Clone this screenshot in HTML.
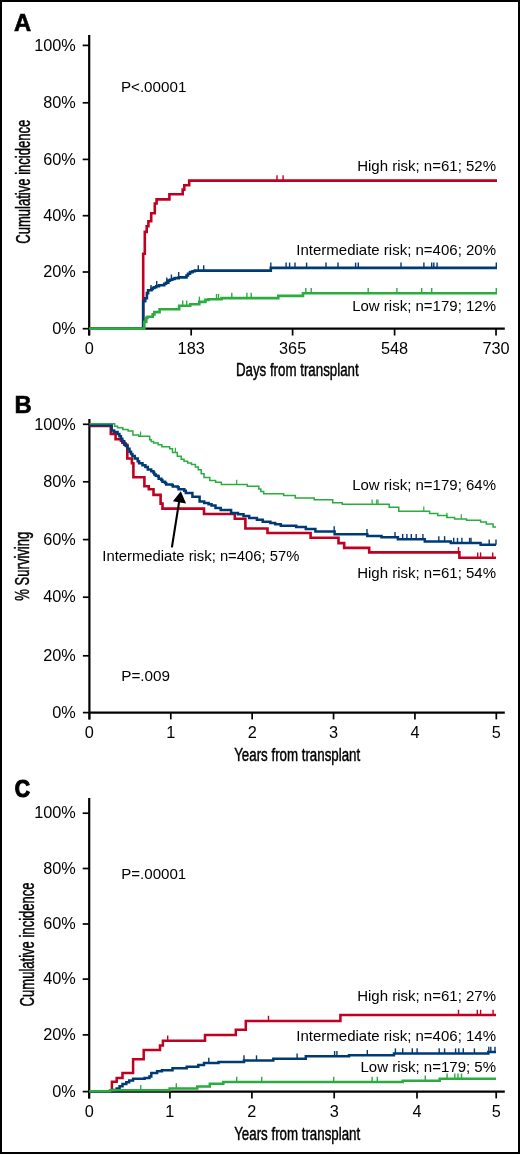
<!DOCTYPE html><html><head><meta charset="utf-8"><style>html,body{margin:0;padding:0;background:#fff;overflow:hidden;width:520px;height:1154px}svg text{font-family:"Liberation Sans",sans-serif}svg{display:block;will-change:transform}</style></head><body><svg width="520" height="1154" viewBox="0 0 520 1154" font-family="&quot;Liberation Sans&quot;, sans-serif">
<rect x="0" y="0" width="520" height="1154" fill="#fff"/>
<rect x="1" y="1" width="518" height="1152" fill="none" stroke="#000" stroke-width="2"/>
<text x="13.9" y="30.5" font-size="23.8" font-weight="bold" stroke="#000" stroke-width="0.6">A</text>
<line x1="89.2" y1="35" x2="89.2" y2="335.5" stroke="#000" stroke-width="2.2"/>
<line x1="82.7" y1="328.70" x2="89.2" y2="328.70" stroke="#000" stroke-width="1.7"/>
<text x="75.8" y="333.90" text-anchor="end" font-size="16.3">0%</text>
<line x1="82.7" y1="272.00" x2="89.2" y2="272.00" stroke="#000" stroke-width="1.7"/>
<text x="75.8" y="277.20" text-anchor="end" font-size="16.3">20%</text>
<line x1="82.7" y1="215.70" x2="89.2" y2="215.70" stroke="#000" stroke-width="1.7"/>
<text x="75.8" y="220.90" text-anchor="end" font-size="16.3">40%</text>
<line x1="82.7" y1="159.40" x2="89.2" y2="159.40" stroke="#000" stroke-width="1.7"/>
<text x="75.8" y="164.60" text-anchor="end" font-size="16.3">60%</text>
<line x1="82.7" y1="102.80" x2="89.2" y2="102.80" stroke="#000" stroke-width="1.7"/>
<text x="75.8" y="108.00" text-anchor="end" font-size="16.3">80%</text>
<line x1="82.7" y1="45.40" x2="89.2" y2="45.40" stroke="#000" stroke-width="1.7"/>
<text x="75.8" y="50.60" text-anchor="end" font-size="16.3">100%</text>
<line x1="89.2" y1="328.7" x2="504.8" y2="328.7" stroke="#000" stroke-width="2.2"/>
<line x1="89.2" y1="328.7" x2="89.2" y2="335.5" stroke="#000" stroke-width="1.7"/>
<text x="89.2" y="353.9" text-anchor="middle" font-size="16.3">0</text>
<line x1="191.1859" y1="328.7" x2="191.1859" y2="335.5" stroke="#000" stroke-width="1.7"/>
<text x="191.1859" y="353.9" text-anchor="middle" font-size="16.3">183</text>
<line x1="292.6145" y1="328.7" x2="292.6145" y2="335.5" stroke="#000" stroke-width="1.7"/>
<text x="292.6145" y="353.9" text-anchor="middle" font-size="16.3">365</text>
<line x1="394.6004" y1="328.7" x2="394.6004" y2="335.5" stroke="#000" stroke-width="1.7"/>
<text x="394.6004" y="353.9" text-anchor="middle" font-size="16.3">548</text>
<line x1="496.029" y1="328.7" x2="496.029" y2="335.5" stroke="#000" stroke-width="1.7"/>
<text x="496.029" y="353.9" text-anchor="middle" font-size="16.3">730</text>
<text x="120.9" y="91.6" font-size="15.2">P&lt;.00001</text>
<text x="0" y="0" font-size="19.5" transform="translate(29.8,181.7) rotate(-90)" text-anchor="middle" textLength="124" lengthAdjust="spacingAndGlyphs" stroke="#000" stroke-width="0.45">Cumulative incidence</text>
<text x="235.9" y="376.3" font-size="18" textLength="122.8" lengthAdjust="spacingAndGlyphs" stroke="#000" stroke-width="0.45">Days from transplant</text>
<text x="496" y="171.4" font-size="15" text-anchor="end">High risk; n=61; 52%</text>
<text x="496" y="255.4" font-size="15" text-anchor="end">Intermediate risk; n=406; 20%</text>
<text x="496" y="310.8" font-size="15" text-anchor="end">Low risk; n=179; 12%</text>
<path d="M 89.2 328.8 H 143.2 V 253.8 H 144.8 V 231.9 H 146.7 V 226.2 H 148.4 V 221.3 H 151.2 V 213.3 H 154.8 V 203.5 H 156.6 V 199.4 H 169.4 V 194.2 H 182.7 V 189.6 H 184.3 V 185.2 H 189.2 V 180.6 H 497" fill="none" stroke="#bf0020" stroke-width="2.6" stroke-linejoin="miter" stroke-linecap="butt"/>
<line x1="277" y1="180.6" x2="277" y2="175.29999999999998" stroke="#bf0020" stroke-width="1.4"/>
<line x1="283.1" y1="180.6" x2="283.1" y2="175.29999999999998" stroke="#bf0020" stroke-width="1.4"/>
<path d="M 89.2 328.8 H 143.2 V 301.2 H 145.2 V 298.3 H 146.9 V 293.1 H 148.1 V 290.2 H 151.5 V 289 H 152.7 V 287.9 H 154.4 V 287.3 H 156.2 V 286.2 H 159 V 285.2 H 164.2 V 283.8 H 166 V 282.7 H 168.3 V 280.6 H 170 V 279.8 H 172.3 V 279 H 174.6 V 278.1 H 178.7 V 277.4 H 186.5 V 275.5 H 188 V 273.7 H 190 V 272.1 H 192.5 V 271.2 H 194.8 V 270.6 H 270.8 V 267.9 H 497" fill="none" stroke="#003a75" stroke-width="2.6" stroke-linejoin="miter" stroke-linecap="butt"/>
<line x1="151" y1="290.2" x2="151" y2="284.9" stroke="#003a75" stroke-width="1.4"/>
<line x1="156.7" y1="286.2" x2="156.7" y2="280.9" stroke="#003a75" stroke-width="1.4"/>
<line x1="166.8" y1="282.7" x2="166.8" y2="277.4" stroke="#003a75" stroke-width="1.4"/>
<line x1="171.4" y1="279.8" x2="171.4" y2="274.5" stroke="#003a75" stroke-width="1.4"/>
<line x1="178.7" y1="277.4" x2="178.7" y2="272.09999999999997" stroke="#003a75" stroke-width="1.4"/>
<line x1="198.3" y1="270.6" x2="198.3" y2="265.3" stroke="#003a75" stroke-width="1.4"/>
<line x1="203.7" y1="270.6" x2="203.7" y2="265.3" stroke="#003a75" stroke-width="1.4"/>
<line x1="270.8" y1="267.9" x2="270.8" y2="262.59999999999997" stroke="#003a75" stroke-width="1.4"/>
<line x1="286.1" y1="267.9" x2="286.1" y2="262.59999999999997" stroke="#003a75" stroke-width="1.4"/>
<line x1="289.6" y1="267.9" x2="289.6" y2="262.59999999999997" stroke="#003a75" stroke-width="1.4"/>
<line x1="295" y1="267.9" x2="295" y2="262.59999999999997" stroke="#003a75" stroke-width="1.4"/>
<line x1="306.6" y1="267.9" x2="306.6" y2="262.59999999999997" stroke="#003a75" stroke-width="1.4"/>
<line x1="326" y1="267.9" x2="326" y2="262.59999999999997" stroke="#003a75" stroke-width="1.4"/>
<line x1="338" y1="267.9" x2="338" y2="262.59999999999997" stroke="#003a75" stroke-width="1.4"/>
<line x1="355.6" y1="267.9" x2="355.6" y2="262.59999999999997" stroke="#003a75" stroke-width="1.4"/>
<line x1="358.3" y1="267.9" x2="358.3" y2="262.59999999999997" stroke="#003a75" stroke-width="1.4"/>
<line x1="401" y1="267.9" x2="401" y2="262.59999999999997" stroke="#003a75" stroke-width="1.4"/>
<line x1="423.9" y1="267.9" x2="423.9" y2="262.59999999999997" stroke="#003a75" stroke-width="1.4"/>
<line x1="431.7" y1="267.9" x2="431.7" y2="262.59999999999997" stroke="#003a75" stroke-width="1.4"/>
<line x1="433.8" y1="267.9" x2="433.8" y2="262.59999999999997" stroke="#003a75" stroke-width="1.4"/>
<line x1="437.1" y1="267.9" x2="437.1" y2="262.59999999999997" stroke="#003a75" stroke-width="1.4"/>
<line x1="496.3" y1="267.9" x2="496.3" y2="262.59999999999997" stroke="#003a75" stroke-width="1.4"/>
<path d="M 89.2 328.6 H 144.3 V 321.9 H 146.3 V 317.9 H 147.5 V 316.7 H 152.7 V 314.4 H 154.4 V 312.1 H 159.6 V 309.2 H 179.2 V 305.8 H 190.2 V 304.2 H 199.3 V 301.9 H 205.4 V 299.9 H 208.5 V 299.2 H 221.5 V 298.1 H 278.3 V 295.9 H 303 V 293.2 H 497" fill="none" stroke="#2aac3e" stroke-width="2.6" stroke-linejoin="miter" stroke-linecap="butt"/>
<line x1="182.7" y1="305.8" x2="182.7" y2="300.5" stroke="#2aac3e" stroke-width="1.4"/>
<line x1="186.7" y1="305.8" x2="186.7" y2="300.5" stroke="#2aac3e" stroke-width="1.4"/>
<line x1="199.4" y1="301.9" x2="199.4" y2="296.59999999999997" stroke="#2aac3e" stroke-width="1.4"/>
<line x1="216.5" y1="299.2" x2="216.5" y2="293.9" stroke="#2aac3e" stroke-width="1.4"/>
<line x1="218.5" y1="299.2" x2="218.5" y2="293.9" stroke="#2aac3e" stroke-width="1.4"/>
<line x1="231.8" y1="298.1" x2="231.8" y2="292.8" stroke="#2aac3e" stroke-width="1.4"/>
<line x1="246.9" y1="298.1" x2="246.9" y2="292.8" stroke="#2aac3e" stroke-width="1.4"/>
<line x1="251.2" y1="298.1" x2="251.2" y2="292.8" stroke="#2aac3e" stroke-width="1.4"/>
<line x1="305.8" y1="293.2" x2="305.8" y2="287.9" stroke="#2aac3e" stroke-width="1.4"/>
<line x1="311.2" y1="293.2" x2="311.2" y2="287.9" stroke="#2aac3e" stroke-width="1.4"/>
<line x1="368.2" y1="293.2" x2="368.2" y2="287.9" stroke="#2aac3e" stroke-width="1.4"/>
<line x1="396.9" y1="293.2" x2="396.9" y2="287.9" stroke="#2aac3e" stroke-width="1.4"/>
<line x1="421.7" y1="293.2" x2="421.7" y2="287.9" stroke="#2aac3e" stroke-width="1.4"/>
<line x1="431.7" y1="293.2" x2="431.7" y2="287.9" stroke="#2aac3e" stroke-width="1.4"/>
<line x1="496.3" y1="293.2" x2="496.3" y2="287.9" stroke="#2aac3e" stroke-width="1.4"/>
<text x="14.6" y="412.5" font-size="23.8" font-weight="bold" stroke="#000" stroke-width="0.6">B</text>
<line x1="89.4" y1="419.1" x2="89.4" y2="719.4" stroke="#000" stroke-width="2.2"/>
<line x1="82.9" y1="712.60" x2="89.4" y2="712.60" stroke="#000" stroke-width="1.7"/>
<text x="75.8" y="717.80" text-anchor="end" font-size="16.3">0%</text>
<line x1="82.9" y1="655.80" x2="89.4" y2="655.80" stroke="#000" stroke-width="1.7"/>
<text x="75.8" y="661.00" text-anchor="end" font-size="16.3">20%</text>
<line x1="82.9" y1="597.20" x2="89.4" y2="597.20" stroke="#000" stroke-width="1.7"/>
<text x="75.8" y="602.40" text-anchor="end" font-size="16.3">40%</text>
<line x1="82.9" y1="539.60" x2="89.4" y2="539.60" stroke="#000" stroke-width="1.7"/>
<text x="75.8" y="544.80" text-anchor="end" font-size="16.3">60%</text>
<line x1="82.9" y1="481.80" x2="89.4" y2="481.80" stroke="#000" stroke-width="1.7"/>
<text x="75.8" y="487.00" text-anchor="end" font-size="16.3">80%</text>
<line x1="82.9" y1="424.30" x2="89.4" y2="424.30" stroke="#000" stroke-width="1.7"/>
<text x="75.8" y="429.50" text-anchor="end" font-size="16.3">100%</text>
<line x1="89.4" y1="712.6" x2="504.8" y2="712.6" stroke="#000" stroke-width="2.2"/>
<line x1="89.4" y1="712.6" x2="89.4" y2="719.4" stroke="#000" stroke-width="1.7"/>
<text x="89.4" y="737.7" text-anchor="middle" font-size="16.3">0</text>
<line x1="170.78" y1="712.6" x2="170.78" y2="719.4" stroke="#000" stroke-width="1.7"/>
<text x="170.78" y="737.7" text-anchor="middle" font-size="16.3">1</text>
<line x1="252.16" y1="712.6" x2="252.16" y2="719.4" stroke="#000" stroke-width="1.7"/>
<text x="252.16" y="737.7" text-anchor="middle" font-size="16.3">2</text>
<line x1="333.53999999999996" y1="712.6" x2="333.53999999999996" y2="719.4" stroke="#000" stroke-width="1.7"/>
<text x="333.53999999999996" y="737.7" text-anchor="middle" font-size="16.3">3</text>
<line x1="414.91999999999996" y1="712.6" x2="414.91999999999996" y2="719.4" stroke="#000" stroke-width="1.7"/>
<text x="414.91999999999996" y="737.7" text-anchor="middle" font-size="16.3">4</text>
<line x1="496.29999999999995" y1="712.6" x2="496.29999999999995" y2="719.4" stroke="#000" stroke-width="1.7"/>
<text x="496.29999999999995" y="737.7" text-anchor="middle" font-size="16.3">5</text>
<text x="121.2" y="680.8" font-size="15.3">P=.009</text>
<text x="0" y="0" font-size="19.5" transform="translate(28.8,566.2) rotate(-90)" text-anchor="middle" textLength="69" lengthAdjust="spacingAndGlyphs" stroke="#000" stroke-width="0.45">% Surviving</text>
<text x="234.2" y="760.9" font-size="18" textLength="126" lengthAdjust="spacingAndGlyphs" stroke="#000" stroke-width="0.45">Years from transplant</text>
<text x="496" y="489.6" font-size="15" text-anchor="end">Low risk; n=179; 64%</text>
<text x="496" y="577.9" font-size="15" text-anchor="end">High risk; n=61; 54%</text>
<text x="102.3" y="560.9" font-size="14.8">Intermediate risk; n=406; 57%</text>
<path d="M 89.4 425.9 H 110.8 V 433.9 H 115.6 V 439.2 H 120.9 V 440.6 H 122.3 V 442.6 H 124.2 V 444.8 H 127.3 V 458.5 H 131.9 V 463.3 H 133.4 V 477.2 H 144.4 V 486.3 H 148.8 V 489.2 H 153.5 V 494.9 H 160.6 V 503.6 H 162.5 V 508.6 H 204 V 514 H 234.8 V 518.8 H 245.4 V 528.5 H 267.5 V 533 H 310.6 V 537.7 H 338.5 V 543.1 H 344.2 V 547.9 H 369.2 V 552.4 H 459.4 V 557.7 H 496" fill="none" stroke="#bf0020" stroke-width="2.6" stroke-linejoin="miter" stroke-linecap="butt"/>
<line x1="458.5" y1="552.4" x2="458.5" y2="547.1" stroke="#bf0020" stroke-width="1.4"/>
<line x1="477.7" y1="557.7" x2="477.7" y2="552.4000000000001" stroke="#bf0020" stroke-width="1.4"/>
<line x1="480.6" y1="557.7" x2="480.6" y2="552.4000000000001" stroke="#bf0020" stroke-width="1.4"/>
<line x1="492.7" y1="557.7" x2="492.7" y2="552.4000000000001" stroke="#bf0020" stroke-width="1.4"/>
<path d="M 89.4 425.2 H 111.7 V 430.6 H 114.1 V 432 H 117.5 V 434 H 119.4 V 436.3 H 120.9 V 438.8 H 122.3 V 441.2 H 124.2 V 443.6 H 125.7 V 446 H 127.6 V 448.8 H 129.5 V 451.7 H 131 V 454.1 H 132.4 V 456.1 H 134.8 V 458.5 H 137.7 V 461.3 H 139.1 V 463.3 H 142.5 V 465.2 H 145.4 V 467.1 H 147.8 V 469.5 H 151.2 V 471.3 H 153.5 V 472.8 H 154.3 V 474.5 H 155.8 V 475.7 H 158.1 V 476.5 H 158.7 V 478.8 H 161.3 V 480 H 162.4 V 481.7 H 165 V 482.9 H 166.2 V 484.6 H 171.9 V 484.9 H 172.8 V 486.6 H 177.7 V 487.2 H 178.6 V 489.2 H 184.3 V 490.7 H 185.8 V 493 H 192.4 V 496.7 H 199.6 V 501.4 H 204.2 V 503.1 H 208.6 V 504.3 H 211.5 V 505.5 H 215.5 V 508.1 H 220.7 V 510.1 H 231.1 V 513 H 238 V 514.2 H 243.5 V 515.9 H 249.2 V 517.9 H 256.9 V 519.8 H 262.7 V 521.7 H 270.4 V 523.1 H 275.2 V 524.2 H 280.8 V 525.8 H 296.2 V 526.9 H 305.8 V 528.9 H 315.4 V 531.5 H 334.6 V 534.3 H 367.3 V 536 H 381.5 V 537.3 H 397.9 V 539.2 H 424.8 V 541.4 H 450.8 V 543.1 H 480.6 V 544.8 H 496" fill="none" stroke="#003a75" stroke-width="2.5" stroke-linejoin="miter" stroke-linecap="butt"/>
<line x1="334.2" y1="531.5" x2="334.2" y2="526.25" stroke="#003a75" stroke-width="1.4"/>
<line x1="367" y1="534.3" x2="367" y2="529.05" stroke="#003a75" stroke-width="1.4"/>
<line x1="395" y1="537.3" x2="395" y2="532.05" stroke="#003a75" stroke-width="1.4"/>
<line x1="402.7" y1="539.2" x2="402.7" y2="533.95" stroke="#003a75" stroke-width="1.4"/>
<line x1="406.9" y1="539.2" x2="406.9" y2="533.95" stroke="#003a75" stroke-width="1.4"/>
<line x1="411.3" y1="539.2" x2="411.3" y2="533.95" stroke="#003a75" stroke-width="1.4"/>
<line x1="416.2" y1="539.2" x2="416.2" y2="533.95" stroke="#003a75" stroke-width="1.4"/>
<line x1="422.9" y1="539.2" x2="422.9" y2="533.95" stroke="#003a75" stroke-width="1.4"/>
<line x1="438.8" y1="541.4" x2="438.8" y2="536.15" stroke="#003a75" stroke-width="1.4"/>
<line x1="444.6" y1="541.4" x2="444.6" y2="536.15" stroke="#003a75" stroke-width="1.4"/>
<line x1="453.7" y1="543.1" x2="453.7" y2="537.85" stroke="#003a75" stroke-width="1.4"/>
<line x1="457.5" y1="543.1" x2="457.5" y2="537.85" stroke="#003a75" stroke-width="1.4"/>
<line x1="461.9" y1="543.1" x2="461.9" y2="537.85" stroke="#003a75" stroke-width="1.4"/>
<line x1="469.6" y1="543.1" x2="469.6" y2="537.85" stroke="#003a75" stroke-width="1.4"/>
<line x1="471" y1="543.1" x2="471" y2="537.85" stroke="#003a75" stroke-width="1.4"/>
<line x1="489.2" y1="544.8" x2="489.2" y2="539.55" stroke="#003a75" stroke-width="1.4"/>
<line x1="496" y1="544.8" x2="496" y2="539.55" stroke="#003a75" stroke-width="1.4"/>
<path d="M 89.4 423.8 H 114.6 V 426.3 H 117.5 V 427.7 H 122.8 V 429.6 H 128.1 V 431.1 H 132.9 V 434.9 H 138.7 V 436.3 H 149.7 V 439.7 H 151.2 V 441.6 H 153.6 V 443 H 158.1 V 444.8 H 161.9 V 446.7 H 169.6 V 448.7 H 172.5 V 452.5 H 177.3 V 456.3 H 181.2 V 459.2 H 184 V 461.2 H 187.7 V 463 H 191.5 V 464.6 H 195.4 V 466.9 H 198.3 V 469.8 H 201.2 V 473.7 H 204 V 477.5 H 209.8 V 480.4 H 215.6 V 482.3 H 221.3 V 484.6 H 247.3 V 486.2 H 258.8 V 489 H 260.8 V 491.5 H 263.7 V 493.8 H 283.7 V 495.4 H 295.2 V 497.9 H 314.2 V 499.8 H 332.7 V 502.7 H 342.3 V 504.2 H 389.2 V 507.3 H 398.8 V 511.2 H 429.6 V 513.6 H 437.8 V 515.5 H 446.9 V 517.6 H 454.6 V 519 H 466.6 V 520.3 H 480.6 V 522.1 H 486.3 V 524 H 493.1 V 526.9 H 496" fill="none" stroke="#2aac3e" stroke-width="1.5" stroke-linejoin="miter" stroke-linecap="butt"/>
<line x1="140.6" y1="436.3" x2="140.6" y2="431.55" stroke="#2aac3e" stroke-width="1.2"/>
<line x1="175.4" y1="452.5" x2="175.4" y2="447.75" stroke="#2aac3e" stroke-width="1.2"/>
<line x1="236.7" y1="484.6" x2="236.7" y2="479.85" stroke="#2aac3e" stroke-width="1.2"/>
<line x1="372.1" y1="504.2" x2="372.1" y2="499.45" stroke="#2aac3e" stroke-width="1.2"/>
<line x1="376.7" y1="504.2" x2="376.7" y2="499.45" stroke="#2aac3e" stroke-width="1.2"/>
<line x1="378" y1="504.2" x2="378" y2="499.45" stroke="#2aac3e" stroke-width="1.2"/>
<line x1="423.8" y1="511.2" x2="423.8" y2="506.45" stroke="#2aac3e" stroke-width="1.2"/>
<line x1="446.9" y1="517.6" x2="446.9" y2="512.85" stroke="#2aac3e" stroke-width="1.2"/>
<line x1="461.3" y1="519" x2="461.3" y2="514.25" stroke="#2aac3e" stroke-width="1.2"/>
<line x1="179.4" y1="500" x2="171.9" y2="547.3" stroke="#000" stroke-width="2.1"/>
<polygon points="180.8,491.3 172.9,501.3 186.1,503.6" fill="#000"/>
<text x="0" y="0" font-size="23.5" font-weight="bold" stroke="#000" stroke-width="1.2" transform="translate(14.75,797.2) scale(0.9,1)">C</text>
<line x1="89.2" y1="798.1" x2="89.2" y2="1098.3999999999999" stroke="#000" stroke-width="2.2"/>
<line x1="82.7" y1="1091.60" x2="89.2" y2="1091.60" stroke="#000" stroke-width="1.7"/>
<text x="75.8" y="1096.80" text-anchor="end" font-size="16.3">0%</text>
<line x1="82.7" y1="1034.90" x2="89.2" y2="1034.90" stroke="#000" stroke-width="1.7"/>
<text x="75.8" y="1040.10" text-anchor="end" font-size="16.3">20%</text>
<line x1="82.7" y1="979.10" x2="89.2" y2="979.10" stroke="#000" stroke-width="1.7"/>
<text x="75.8" y="984.30" text-anchor="end" font-size="16.3">40%</text>
<line x1="82.7" y1="924.00" x2="89.2" y2="924.00" stroke="#000" stroke-width="1.7"/>
<text x="75.8" y="929.20" text-anchor="end" font-size="16.3">60%</text>
<line x1="82.7" y1="868.50" x2="89.2" y2="868.50" stroke="#000" stroke-width="1.7"/>
<text x="75.8" y="873.70" text-anchor="end" font-size="16.3">80%</text>
<line x1="82.7" y1="813.20" x2="89.2" y2="813.20" stroke="#000" stroke-width="1.7"/>
<text x="75.8" y="818.40" text-anchor="end" font-size="16.3">100%</text>
<line x1="89.2" y1="1091.6" x2="504.8" y2="1091.6" stroke="#000" stroke-width="2.2"/>
<line x1="89.2" y1="1091.6" x2="89.2" y2="1098.3999999999999" stroke="#000" stroke-width="1.7"/>
<text x="89.2" y="1117" text-anchor="middle" font-size="16.3">0</text>
<line x1="169.9" y1="1091.6" x2="169.9" y2="1098.3999999999999" stroke="#000" stroke-width="1.7"/>
<text x="169.9" y="1117" text-anchor="middle" font-size="16.3">1</text>
<line x1="251.9" y1="1091.6" x2="251.9" y2="1098.3999999999999" stroke="#000" stroke-width="1.7"/>
<text x="251.9" y="1117" text-anchor="middle" font-size="16.3">2</text>
<line x1="334.2" y1="1091.6" x2="334.2" y2="1098.3999999999999" stroke="#000" stroke-width="1.7"/>
<text x="334.2" y="1117" text-anchor="middle" font-size="16.3">3</text>
<line x1="417" y1="1091.6" x2="417" y2="1098.3999999999999" stroke="#000" stroke-width="1.7"/>
<text x="417" y="1117" text-anchor="middle" font-size="16.3">4</text>
<line x1="496.2" y1="1091.6" x2="496.2" y2="1098.3999999999999" stroke="#000" stroke-width="1.7"/>
<text x="496.2" y="1117" text-anchor="middle" font-size="16.3">5</text>
<text x="121.2" y="878.7" font-size="15.1">P=.00001</text>
<text x="0" y="0" font-size="19.5" transform="translate(34,944.4) rotate(-90)" text-anchor="middle" textLength="124" lengthAdjust="spacingAndGlyphs" stroke="#000" stroke-width="0.45">Cumulative incidence</text>
<text x="234.2" y="1139.5" font-size="18" textLength="126" lengthAdjust="spacingAndGlyphs" stroke="#000" stroke-width="0.45">Years from transplant</text>
<text x="496" y="1000.8" font-size="15" text-anchor="end">High risk; n=61; 27%</text>
<text x="496" y="1041.4" font-size="15" text-anchor="end">Intermediate risk; n=406; 14%</text>
<text x="496" y="1072.3" font-size="15" text-anchor="end">Low risk; n=179; 5%</text>
<path d="M 89.2 1091.5 H 111.9 V 1081.7 H 116.7 V 1077.9 H 122.5 V 1073.1 H 133.1 V 1059.2 H 143.7 V 1050 H 160 V 1045.6 H 162.9 V 1040.8 H 205 V 1035 H 235.8 V 1029.8 H 245.8 V 1021 H 340.4 V 1015 H 496" fill="none" stroke="#bf0020" stroke-width="2.5" stroke-linejoin="miter" stroke-linecap="butt"/>
<line x1="167.7" y1="1040.8" x2="167.7" y2="1035.55" stroke="#bf0020" stroke-width="1.4"/>
<line x1="268.5" y1="1021" x2="268.5" y2="1015.75" stroke="#bf0020" stroke-width="1.4"/>
<line x1="458.5" y1="1015" x2="458.5" y2="1009.75" stroke="#bf0020" stroke-width="1.4"/>
<line x1="477.3" y1="1015" x2="477.3" y2="1009.75" stroke="#bf0020" stroke-width="1.4"/>
<line x1="480.6" y1="1015" x2="480.6" y2="1009.75" stroke="#bf0020" stroke-width="1.4"/>
<line x1="493.1" y1="1015" x2="493.1" y2="1009.75" stroke="#bf0020" stroke-width="1.4"/>
<path d="M 89.2 1091.5 H 113.8 V 1090 H 116.7 V 1088.5 H 119.6 V 1086.2 H 122.5 V 1084 H 126.3 V 1082.3 H 129.2 V 1080.4 H 133.1 V 1078.8 H 144.6 V 1077.9 H 149.4 V 1076.5 H 151.3 V 1073.1 H 157.1 V 1071.2 H 161.9 V 1070.2 H 172.5 V 1068.3 H 186.7 V 1066.7 H 198.3 V 1065 H 204 V 1062.9 H 218.5 V 1061.9 H 244 V 1060.6 H 273.3 V 1058.7 H 305.8 V 1056.3 H 349 V 1055.2 H 394 V 1053.6 H 488.3 V 1051.9 H 496" fill="none" stroke="#003a75" stroke-width="2.5" stroke-linejoin="miter" stroke-linecap="butt"/>
<line x1="208.8" y1="1062.9" x2="208.8" y2="1057.65" stroke="#003a75" stroke-width="1.4"/>
<line x1="244" y1="1060.6" x2="244" y2="1055.35" stroke="#003a75" stroke-width="1.4"/>
<line x1="256.5" y1="1060.6" x2="256.5" y2="1055.35" stroke="#003a75" stroke-width="1.4"/>
<line x1="297.1" y1="1058.7" x2="297.1" y2="1053.45" stroke="#003a75" stroke-width="1.4"/>
<line x1="334.6" y1="1056.3" x2="334.6" y2="1051.05" stroke="#003a75" stroke-width="1.4"/>
<line x1="336.9" y1="1056.3" x2="336.9" y2="1051.05" stroke="#003a75" stroke-width="1.4"/>
<line x1="367.3" y1="1055.2" x2="367.3" y2="1049.95" stroke="#003a75" stroke-width="1.4"/>
<line x1="395.4" y1="1053.6" x2="395.4" y2="1048.35" stroke="#003a75" stroke-width="1.4"/>
<line x1="402.7" y1="1053.6" x2="402.7" y2="1048.35" stroke="#003a75" stroke-width="1.4"/>
<line x1="412.3" y1="1053.6" x2="412.3" y2="1048.35" stroke="#003a75" stroke-width="1.4"/>
<line x1="417.1" y1="1053.6" x2="417.1" y2="1048.35" stroke="#003a75" stroke-width="1.4"/>
<line x1="439.2" y1="1053.6" x2="439.2" y2="1048.35" stroke="#003a75" stroke-width="1.4"/>
<line x1="444.6" y1="1053.6" x2="444.6" y2="1048.35" stroke="#003a75" stroke-width="1.4"/>
<line x1="455.6" y1="1053.6" x2="455.6" y2="1048.35" stroke="#003a75" stroke-width="1.4"/>
<line x1="458.8" y1="1053.6" x2="458.8" y2="1048.35" stroke="#003a75" stroke-width="1.4"/>
<line x1="463.3" y1="1053.6" x2="463.3" y2="1048.35" stroke="#003a75" stroke-width="1.4"/>
<line x1="474.4" y1="1053.6" x2="474.4" y2="1048.35" stroke="#003a75" stroke-width="1.4"/>
<line x1="488.8" y1="1051.9" x2="488.8" y2="1046.65" stroke="#003a75" stroke-width="1.4"/>
<line x1="490.8" y1="1051.9" x2="490.8" y2="1046.65" stroke="#003a75" stroke-width="1.4"/>
<line x1="495" y1="1051.9" x2="495" y2="1046.65" stroke="#003a75" stroke-width="1.4"/>
<path d="M 89.2 1091.3 H 110.1 V 1090.2 H 169.6 V 1088.4 H 197.3 V 1086.5 H 209.8 V 1083.7 H 223.3 V 1082.1 H 402.7 V 1080.8 H 439.7 V 1078.8 H 496" fill="none" stroke="#2aac3e" stroke-width="2.5" stroke-linejoin="miter" stroke-linecap="butt"/>
<line x1="140.8" y1="1090.2" x2="140.8" y2="1084.95" stroke="#2aac3e" stroke-width="1.4"/>
<line x1="176.3" y1="1088.4" x2="176.3" y2="1083.15" stroke="#2aac3e" stroke-width="1.4"/>
<line x1="236.7" y1="1082.1" x2="236.7" y2="1076.85" stroke="#2aac3e" stroke-width="1.4"/>
<line x1="261.7" y1="1082.1" x2="261.7" y2="1076.85" stroke="#2aac3e" stroke-width="1.4"/>
<line x1="333.7" y1="1082.1" x2="333.7" y2="1076.85" stroke="#2aac3e" stroke-width="1.4"/>
<line x1="372.1" y1="1082.1" x2="372.1" y2="1076.85" stroke="#2aac3e" stroke-width="1.4"/>
<line x1="377.3" y1="1082.1" x2="377.3" y2="1076.85" stroke="#2aac3e" stroke-width="1.4"/>
<line x1="425.3" y1="1080.8" x2="425.3" y2="1075.55" stroke="#2aac3e" stroke-width="1.4"/>
<line x1="447.1" y1="1078.8" x2="447.1" y2="1073.55" stroke="#2aac3e" stroke-width="1.4"/>
<line x1="454.8" y1="1078.8" x2="454.8" y2="1073.55" stroke="#2aac3e" stroke-width="1.4"/>
<line x1="458" y1="1078.8" x2="458" y2="1073.55" stroke="#2aac3e" stroke-width="1.4"/>
<line x1="461.5" y1="1078.8" x2="461.5" y2="1073.55" stroke="#2aac3e" stroke-width="1.4"/>
</svg></body></html>
